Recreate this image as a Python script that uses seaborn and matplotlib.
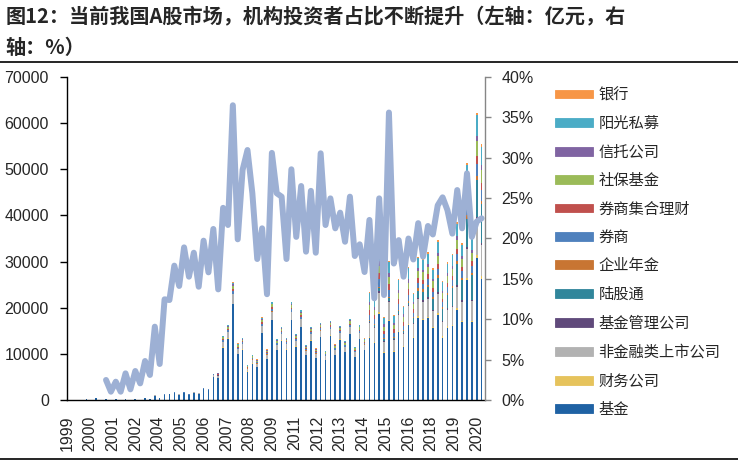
import numpy as np
import matplotlib.pyplot as plt
import seaborn as sns
from matplotlib.patches import Patch
from matplotlib.lines import Line2D
from matplotlib.ticker import FuncFormatter, MultipleLocator

# quarters 2000Q2 .. 2020Q3 (82 periods)
quarters = [f'{y}Q{q}' for y in range(2000, 2021) for q in range(1, 5)][1:-1]

# x tick labels (date axis, one tick every 14 months from 1999-06)
tick_labels = ['1999', '2000', '2001', '2002', '2004', '2005', '2006', '2007', '2008', '2009',
               '2011', '2012', '2013', '2014', '2015', '2016', '2018', '2019', '2020']

# holdings by investor type (亿元), bottom of the stack first
jijin = [150, 0, 360, 0, 120, 0, 150, 0, 200, 0, 220, 0, 450, 270, 970, 450, 1110, 1240, 1490, 1170,
         1490, 1110, 1620, 1370, 2280, 2080, 5000,
         4800, 11360, 13280, 20770, 9950, 10940, 6150, 7900, 7140, 14500, 8890, 17290, 10730, 12880,
         10940, 17250, 11580, 15800, 9660, 12880, 9070, 13580, 8660, 13920, 9780, 13050, 10360, 14270,
         9360, 13160, 10830,
         13340, 12440, 18640, 10150, 17030, 10400, 14780, 11490, 16270,
         13530, 17830, 17350, 17760, 15550, 18510, 13540, 15670, 15980, 19440, 16810, 25960, 16820,
         30840, 26320]
caiwu = [0] * 27 + [30, 70, 80, 130, 60, 70, 40, 50, 40, 90, 60, 110, 70, 80, 70, 110, 70, 100, 60, 80,
                    60, 80, 50, 90, 60, 80, 60, 90, 60, 80, 70,
                    230, 220, 330, 180, 300, 180, 260, 200, 290,
                    230, 310, 310, 320, 290, 350, 260, 300, 320, 390, 340, 510, 350, 620, 550]
feijinrong = [0] * 12 + [30, 20, 60, 30, 70, 80, 100, 80, 100, 70, 110, 90, 150, 140, 330,
                         470, 1120, 1310, 2050, 980, 1080, 610, 780, 700, 1430, 880, 1710, 1060, 1270,
                         1080, 1700, 1140, 1560, 950, 1270, 900, 1340, 860, 1380, 970, 1290, 1020, 1410,
                         920, 1300, 1070,
                         3040, 2840, 4250, 2310, 3880, 2370, 3370, 2620, 3710,
                         2770, 3720, 3680, 3840, 3420, 4150, 3090, 3580, 3800, 4620, 4080, 6170, 4250,
                         7480, 6650]
guanli = [0] * 27 + [10, 30, 30, 50, 20, 30, 20, 20, 20, 40, 20, 40, 30, 30, 30, 40, 30, 40, 20, 30,
                     20, 30, 20, 30, 20, 30, 30, 40, 20, 30, 30,
                     230, 220, 330, 180, 300, 180, 260, 200, 290,
                     230, 310, 310, 320, 290, 350, 260, 300, 320, 390, 340, 510, 350, 620, 550]
lugutong = [0] * 58 + [230, 440, 650, 360, 600, 360, 520, 400, 570,
                       920, 1550, 1840, 2240, 2280, 3110, 2580, 2980, 3800, 4620, 4410, 6170, 5310,
                       8100, 8310]
nianjin = [0] * 27 + [0, 0, 0, 0, 30, 40, 20, 30, 30, 50, 30, 60, 40, 50, 40, 60, 40, 60, 40, 50,
                      30, 50, 30, 50, 40, 50, 40, 50, 30, 50, 40,
                      230, 220, 330, 180, 300, 180, 260, 200, 290,
                      350, 470, 460, 480, 430, 520, 390, 450, 470, 580, 510, 770, 530, 930, 830]
quanshang = [0] * 12 + [20, 10, 50, 20, 50, 60, 70, 50, 70, 50, 70, 60, 100, 90, 230,
                        150, 350, 410, 640, 310, 340, 190, 240, 220, 450, 270, 530, 330, 400, 340,
                        530, 360, 490, 300, 400, 280, 420, 270, 430, 300, 400, 320, 440, 290, 410, 330,
                        1170, 1090, 1640, 890, 1490, 910, 1300, 1010, 1430,
                        920, 1240, 1230, 1280, 1140, 1380, 1030, 1190, 1270, 1540, 1360, 2060, 1420,
                        2490, 2220]
jihe = [0] * 27 + [90, 210, 250, 380, 180, 200, 110, 150, 130, 270, 160, 320, 200, 240, 200, 320,
                   210, 290, 180, 240, 170, 250, 160, 260, 180, 240, 190, 260, 170, 240, 200,
                   940, 870, 1310, 710, 1190, 730, 1040, 810, 1140,
                   690, 930, 920, 960, 860, 1040, 770, 900, 950, 1160, 1020, 1540, 1060, 1870, 1660]
shebao = [0] * 27 + [180, 420, 490, 770, 370, 410, 230, 290, 260, 540, 330, 640, 400, 480, 410, 640,
                     430, 590, 360, 480, 340, 500, 320, 520, 360, 480, 380, 530, 350, 490, 400,
                     1170, 1090, 1640, 890, 1490, 910, 1300, 1010, 1430,
                     1160, 1550, 1540, 1600, 1430, 1730, 1290, 1490, 1580, 1930, 1700, 2570, 1770,
                     3120, 2770]
xintuo = [0] * 27 + [60, 140, 160, 260, 120, 140, 80, 100, 90, 180, 110, 210, 130, 160, 140, 210,
                     140, 200, 120, 160, 110, 170, 110, 170, 120, 160, 130, 180, 120, 160, 130,
                     700, 650, 980, 530, 900, 550, 780, 600, 860,
                     460, 620, 610, 640, 570, 690, 520, 600, 630, 770, 680, 1030, 710, 1250, 1110]
yangguang = [0] * 27 + [80, 200, 240, 390, 170, 190, 100, 140, 120, 260, 150, 310, 190, 230, 200, 310,
                        220, 300, 190, 250, 180, 260, 170, 270, 190, 250, 200, 280, 180, 260, 220,
                        1870, 1750, 2620, 1420, 2390, 1460, 2070, 1610, 2280,
                        1620, 2170, 2150, 2240, 2000, 2420, 1810, 2090, 2210, 2700, 2380, 3600, 2480,
                        4360, 3880]
yinhang = [0] * 27 + [30, 70, 80, 130, 60, 70, 40, 50, 40, 90, 60, 110, 70, 80, 70, 110, 70, 100, 60, 80,
                      60, 80, 50, 90, 60, 80, 60, 90, 60, 80, 70,
                      230, 220, 330, 180, 300, 180, 260, 200, 290,
                      230, 310, 310, 320, 290, 350, 260, 300, 320, 390, 340, 510, 350, 620, 550]

# institutional share of A-share market (%), right axis, starts 2001Q2
ratio = [np.nan] * 4 + [2.48, 1.03, 2.27, 1.03, 3.30, 1.32, 3.59, 2.06, 4.83, 3.10,
                        9.08, 4.46, 12.47, 12.38, 16.64, 14.12, 18.9, 15.27, 18.24, 14.03,
                        19.73, 15.81, 21.18, 13.7, 23.8, 21.67, 36.5, 19.9, 28.5, 30.96,
                        25.6, 17.46, 21.26, 13.1, 30.6, 25.6, 25.18, 17.46, 28.57, 20.2,
                        26.5, 18.37, 25.9, 18.24, 30.55, 21.67, 24.97, 21.26, 23.2, 19.6,
                        25.18, 17.83, 19.28, 15.85, 22.3, 12.59, 24.97, 13.0, 35.6, 16.9,
                        19.8, 15.27, 20.0, 17.4, 21.9, 17.75, 21.55, 20.5, 24.1, 25.1,
                        23.5, 20.6, 26.0, 21.26, 28.07, 20.2, 22.1, 22.5]

series = [
    ('基金', jijin, '#1F62A4'),
    ('财务公司', caiwu, '#E6C35C'),
    ('非金融类上市公司', feijinrong, '#B2B2B2'),
    ('基金管理公司', guanli, '#604A7B'),
    ('陆股通', lugutong, '#31869B'),
    ('企业年金', nianjin, '#C87533'),
    ('券商', quanshang, '#4F81BD'),
    ('券商集合理财', jihe, '#C0504D'),
    ('社保基金', shebao, '#9BBB59'),
    ('信托公司', xintuo, '#8064A2'),
    ('阳光私募', yangguang, '#4BACC6'),
    ('银行', yinhang, '#F79646'),
]

# position on a date axis: month slot of the quarter end, in years
xpos = np.array([int(q[:4]) + (3 * int(q[-1]) - 1) / 12 for q in quarters])
tick_pos = [1999 + 5 / 12 + k * 14 / 12 for k in range(len(tick_labels))]

sns.set_style('white')
plt.rcParams['font.family'] = ['Liberation Sans', 'Noto Sans CJK SC']

fig = plt.figure(figsize=(7.38, 4.61), dpi=100)
ax = fig.add_axes([67 / 738, 61 / 461, 418 / 738, 323 / 461])

# stacked columns: draw cumulative totals from the top layer down
cums = np.cumsum(np.array([s[1] for s in series], dtype=float), axis=0)
for i in range(len(series) - 1, -1, -1):
    sns.barplot(x=xpos, y=cums[i], native_scale=True, orient='x', width=0.33,
                color=series[i][2], saturation=1, errorbar=None, linewidth=0, ax=ax)

ax.set_xlim(1999 + 5 / 12, 2020.84)
ax.set_ylim(0, 70000)
ax.yaxis.set_major_locator(MultipleLocator(10000))
ax.set_xticks(tick_pos)
ax.set_xticklabels(tick_labels, rotation=90)
ax.tick_params(axis='both', labelsize=11.5, length=5, width=1, color='black', direction='out')
ax.tick_params(axis='y', pad=8)
ax.tick_params(axis='x', pad=6)
for side in ['top', 'right']:
    ax.spines[side].set_visible(False)
for side in ['left', 'bottom']:
    ax.spines[side].set_color('black')
    ax.spines[side].set_linewidth(1)
ax.set_xlabel('')
ax.set_ylabel('')

# right axis line
ax2 = ax.twinx()
sns.lineplot(x=xpos, y=ratio, ax=ax2, color='#9DB0D4', linewidth=4.3, estimator=None)
ax2.set_ylim(0, 40)
ax2.yaxis.set_major_locator(MultipleLocator(5))
ax2.yaxis.set_major_formatter(FuncFormatter(lambda v, p: f'{v:.0f}%'))
ax2.tick_params(axis='y', labelsize=11.5, length=4, width=1, color='#868686', pad=8)
for side in ['top', 'left', 'bottom']:
    ax2.spines[side].set_visible(False)
ax2.spines['right'].set_color('#868686')
ax2.spines['right'].set_linewidth(1)
ax2.set_ylabel('')
ax2.set_xlim(ax.get_xlim())

# legend, top of the stack first
handles = [Patch(facecolor=c, edgecolor=c, linewidth=0.6) for _, _, c in series[::-1]]
labels = [n for n, _, _ in series[::-1]]
fig.legend(handles, labels, loc='upper left', bbox_to_anchor=(555 / 738, 1 - 88 / 461),
           bbox_transform=fig.transFigure, frameon=False, fontsize=11,
           handlelength=2.5, handleheight=0.5, handletextpad=0.35,
           labelspacing=0.94, borderpad=0, borderaxespad=0)

# title and rules
fig.text(0.007, 1 - 17 / 461, '图12：当前我国A股市场，机构投资者占比不断提升（左轴：亿元，右',
         fontsize=14.5, fontweight='bold', va='center', family=['Noto Sans CJK SC'])
fig.text(0.007, 1 - 47 / 461, '轴：%）', fontsize=14.5, fontweight='bold', va='center',
         family=['Noto Sans CJK SC'])
fig.add_artist(Line2D([0, 1], [1 - 62.5 / 461] * 2, transform=fig.transFigure, color='black', lw=1.2))
fig.add_artist(Line2D([0, 1], [1 - 458.5 / 461] * 2, transform=fig.transFigure, color='black', lw=1.2))

plt.savefig('out.png', dpi=100)
